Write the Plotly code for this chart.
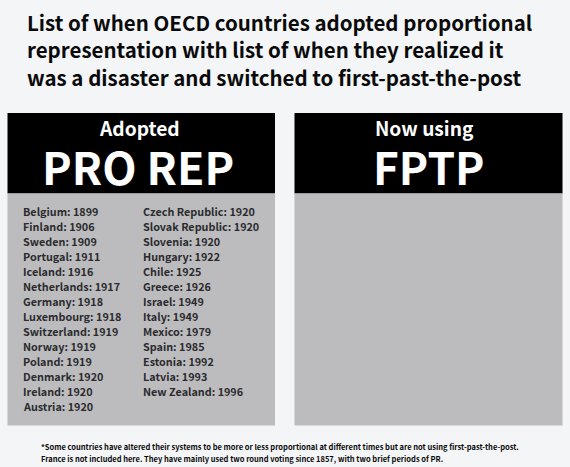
import plotly.graph_objects as go

TITLE_LINES = ["List of when OECD countries adopted proportional",
               "representation with list of when they realized it",
               "was a disaster and switched to first-past-the-post"]
COL1_COUNTRIES = ["Belgium", "Finland", "Sweden", "Portugal", "Iceland", "Netherlands", "Germany",
                  "Luxembourg", "Switzerland", "Norway", "Poland", "Denmark", "Ireland", "Austria"]
COL1_YEARS = [1899, 1906, 1909, 1911, 1916, 1917, 1918, 1918, 1919, 1919, 1919, 1920, 1920, 1920]
COL2_COUNTRIES = ["Czech Republic", "Slovak Republic", "Slovenia", "Hungary", "Chile", "Greece", "Israel",
                  "Italy", "Mexico", "Spain", "Estonia", "Latvia", "New Zealand"]
COL2_YEARS = [1920, 1920, 1920, 1922, 1925, 1926, 1949, 1949, 1979, 1985, 1992, 1993, 1996]
FOOTNOTES = ["*Some countries have altered their systems to be more or less proportional at different times but are not using first-past-the-post.",
             "France is not included here. They have mainly used two round voting since 1857, with two brief periods of PR."]

FONT = "Noto Sans CJK JP"
BG = "#f4f5f7"
DARK = "#0a0a0a"
GREY = "#bcbcbe"

fig = go.Figure()
shapes = []
for x0, x1 in [(7.5, 275), (294.5, 562.5)]:
    shapes.append(dict(type="rect", x0=x0, x1=x1, y0=113, y1=193.5, fillcolor="#000000", line_width=0, layer="below"))
    shapes.append(dict(type="rect", x0=x0, x1=x1, y0=193.5, y1=425.5, fillcolor=GREY, line_width=0, layer="below"))

ann = []
def t(x, y, s, size, color=DARK, anchor="left", weight=700):
    ann.append(dict(x=x, y=y, text=s, showarrow=False, xanchor=anchor, yanchor="middle",
                    font=dict(family=FONT, size=size, color=color, weight=weight), borderpad=0))

for i, line in enumerate(TITLE_LINES):
    t(26, 21.8 + i * 27.4, line, 20.5)
t(139, 127.8, "Adopted", 19.2, "#ffffff", "center")
t(138, 165.5, "PRO REP", 44.6, "#ffffff", "center")
t(424.7, 127.8, "Now using", 19.2, "#ffffff", "center")
t(428.5, 165.5, "FPTP", 44.2, "#ffffff", "center")
for x, names, years in [(22, COL1_COUNTRIES, COL1_YEARS), (141.5, COL2_COUNTRIES, COL2_YEARS)]:
    for i, (n, yr) in enumerate(zip(names, years)):
        t(x, 210.6 + i * 15.05, f"{n}: {yr}", 10.8, "#2b2b2e")
t(40, 446, FOOTNOTES[0], 7.53)
t(40, 458, FOOTNOTES[1], 7.53)

fig.update_layout(width=570, height=467, margin=dict(l=0, r=0, t=0, b=0), autosize=False,
                  paper_bgcolor=BG, plot_bgcolor=BG, shapes=shapes, annotations=ann, showlegend=False,
                  xaxis=dict(range=[0, 570], visible=False, fixedrange=True),
                  yaxis=dict(range=[467, 0], visible=False, fixedrange=True))
fig.write_html("out.html", config=dict(displayModeBar=False), include_plotlyjs=True,
               default_width="570px", default_height="467px",
               post_script="document.body.style.margin='0';document.documentElement.style.overflow='hidden';")
